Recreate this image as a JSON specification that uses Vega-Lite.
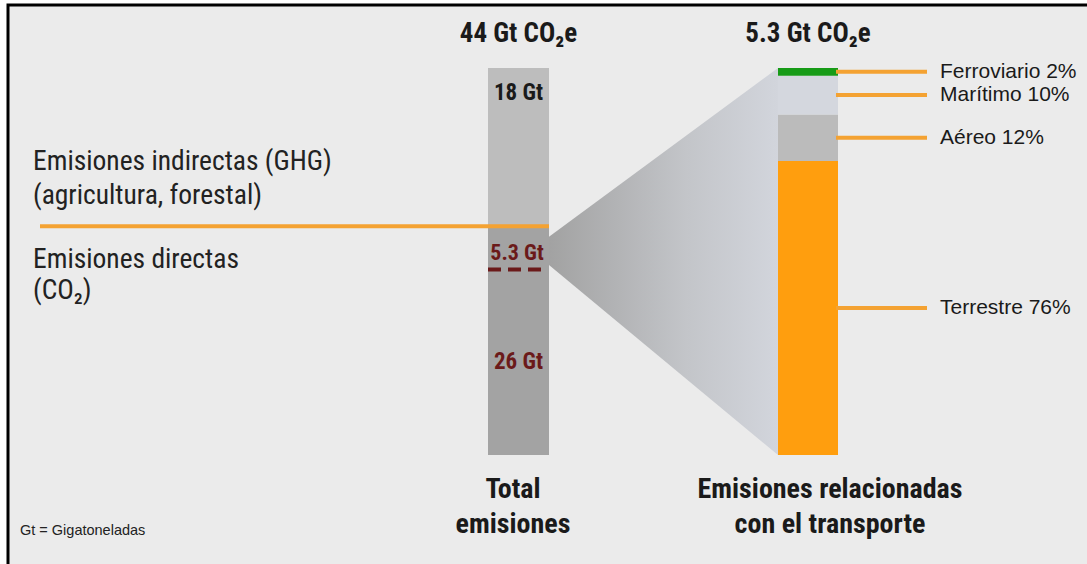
{
  "$schema": "https://vega.github.io/schema/vega-lite/v6.json",
  "width": 1087,
  "height": 564,
  "autosize": {"type": "none"},
  "padding": 0,
  "background": "#ffffff",
  "view": {"stroke": null},
  "datasets": {
    "total": [
      {"segment": "Directas", "gt": 26, "label": "26 Gt"},
      {"segment": "Indirectas", "gt": 18, "label": "18 Gt"}
    ],
    "transport": [
      {"mode": "Terrestre", "pct": 76, "label": "Terrestre 76%"},
      {"mode": "Aéreo", "pct": 12, "label": "Aéreo 12%"},
      {"mode": "Marítimo", "pct": 10, "label": "Marítimo 10%"},
      {"mode": "Ferroviario", "pct": 2, "label": "Ferroviario 2%"}
    ],
    "funnel": [
      {"stage": "Total emisiones", "lo": 21.6, "hi": 24.8},
      {"stage": "Transporte", "lo": 0, "hi": 44}
    ]
  },
  "layer": [
    {
      "layer": [
        {
          "data": {"values": [{}]},
          "mark": {"type": "rect", "fill": "#ebebeb", "stroke": "#000000", "strokeWidth": 3},
          "encoding": {
            "x": {"datum": 8, "type": "quantitative", "scale": {"domain": [0, 1087], "nice": false, "zero": false}, "axis": null},
            "x2": {"datum": 1110},
            "y": {"datum": 51.16, "type": "quantitative", "scale": {"domain": [-12.393, 51.731], "nice": false, "zero": false}, "axis": null},
            "y2": {"datum": -16}
          }
        },
        {
          "data": {"name": "total"},
          "transform": [{"stack": "gt", "groupby": [], "sort": [{"field": "gt", "order": "descending"}], "as": ["g0", "g1"]}],
          "mark": {"type": "rect"},
          "encoding": {
            "x": {"datum": 488, "type": "quantitative"},
            "x2": {"datum": 549},
            "y": {"field": "g1", "type": "quantitative"},
            "y2": {"field": "g0"},
            "color": {"field": "segment", "type": "nominal", "scale": {"domain": ["Directas", "Indirectas"], "range": ["#a3a3a3", "#bdbdbd"]}, "legend": null}
          }
        },
        {
          "data": {"name": "total"},
          "mark": {"type": "text", "font": "Roboto Condensed", "fontWeight": "bold", "fontSize": 23, "color": "#1a1a1a", "baseline": "middle", "align": "center"},
          "encoding": {
            "x": {"datum": 518.5, "type": "quantitative"},
            "y": {"field": "gt", "type": "quantitative", "stack": "zero", "bandPosition": 0.842},
            "detail": {"field": "segment"},
            "order": {"field": "gt", "sort": "descending"},
            "text": {"condition": {"test": "datum.segment === 'Indirectas'", "field": "label", "type": "nominal"}, "value": ""}
          }
        },
        {
          "data": {"name": "total"},
          "mark": {"type": "text", "font": "Roboto Condensed", "fontWeight": "bold", "fontSize": 23, "color": "#6b1a1a", "baseline": "middle", "align": "center"},
          "encoding": {
            "x": {"datum": 518.5, "type": "quantitative"},
            "y": {"field": "gt", "type": "quantitative", "stack": "zero", "bandPosition": 0.407},
            "detail": {"field": "segment"},
            "order": {"field": "gt", "sort": "descending"},
            "text": {"condition": {"test": "datum.segment === 'Directas'", "field": "label", "type": "nominal"}, "value": ""}
          }
        },
        {
          "data": {"values": [{}]},
          "mark": {"type": "rule", "color": "#f4a232", "strokeWidth": 4},
          "encoding": {
            "x": {"datum": 40, "type": "quantitative"},
            "x2": {"datum": 549},
            "y": {"datum": 26, "type": "quantitative"}
          }
        },
        {
          "data": {"values": [{}]},
          "mark": {"type": "rule", "color": "#6b1a1a", "strokeWidth": 4, "strokeDash": [13, 7]},
          "encoding": {
            "x": {"datum": 488, "type": "quantitative"},
            "x2": {"datum": 543},
            "y": {"datum": 21.1, "type": "quantitative"}
          }
        },
        {
          "data": {"values": [{}]},
          "mark": {"type": "text", "font": "Roboto Condensed", "fontWeight": "bold", "fontSize": 22, "color": "#6b1a1a", "baseline": "middle", "align": "center", "text": "5.3 Gt"},
          "encoding": {
            "x": {"datum": 517, "type": "quantitative"},
            "y": {"datum": 22.97, "type": "quantitative"}
          }
        },
        {
          "data": {"values": [{}]},
          "mark": {"type": "text", "font": "Roboto Condensed", "fontWeight": "bold", "fontSize": 27, "color": "#1a1a1a", "baseline": "middle", "align": "center", "text": "44 Gt CO₂e"},
          "encoding": {
            "x": {"datum": 518.5, "type": "quantitative"},
            "y": {"datum": 47.87, "type": "quantitative"}
          }
        },
        {
          "data": {"values": [{}]},
          "mark": {"type": "text", "font": "Roboto Condensed", "fontWeight": "bold", "fontSize": 27, "color": "#1a1a1a", "baseline": "middle", "align": "center", "text": "5.3 Gt CO₂e"},
          "encoding": {
            "x": {"datum": 808, "type": "quantitative"},
            "y": {"datum": 47.87, "type": "quantitative"}
          }
        },
        {
          "data": {"values": [{}]},
          "mark": {"type": "text", "font": "Roboto Condensed", "fontWeight": "bold", "fontSize": 28, "color": "#1a1a1a", "baseline": "alphabetic", "align": "center", "lineHeight": 35, "text": ["Total", "emisiones"]},
          "encoding": {
            "x": {"datum": 513, "type": "quantitative"},
            "y": {"datum": -4.89, "type": "quantitative"}
          }
        },
        {
          "data": {"values": [{}]},
          "mark": {"type": "text", "font": "Roboto Condensed", "fontWeight": "bold", "fontSize": 28, "color": "#1a1a1a", "baseline": "alphabetic", "align": "center", "lineHeight": 35, "text": ["Emisiones relacionadas", "con el transporte"]},
          "encoding": {
            "x": {"datum": 830, "type": "quantitative"},
            "y": {"datum": -4.89, "type": "quantitative"}
          }
        },
        {
          "data": {"values": [{}]},
          "mark": {"type": "text", "font": "Roboto Condensed", "fontSize": 27.5, "color": "#222222", "baseline": "alphabetic", "align": "left", "lineHeight": 34, "text": ["Emisiones indirectas (GHG)", "(agricultura, forestal)"]},
          "encoding": {
            "x": {"datum": 33, "type": "quantitative"},
            "y": {"datum": 32.4, "type": "quantitative"}
          }
        },
        {
          "data": {"values": [{}]},
          "mark": {"type": "text", "font": "Roboto Condensed", "fontSize": 27.5, "color": "#222222", "baseline": "alphabetic", "align": "left", "lineHeight": 31, "text": ["Emisiones directas", "(CO₂)"]},
          "encoding": {
            "x": {"datum": 33, "type": "quantitative"},
            "y": {"datum": 21.26, "type": "quantitative"}
          }
        },
        {
          "data": {"values": [{}]},
          "mark": {"type": "text", "font": "Liberation Sans", "fontSize": 14.5, "color": "#222222", "baseline": "middle", "align": "left", "text": "Gt = Gigatoneladas"},
          "encoding": {
            "x": {"datum": 20, "type": "quantitative"},
            "y": {"datum": -8.64, "type": "quantitative"}
          }
        }
      ]
    },
    {
      "data": {"name": "funnel"},
      "mark": {
        "type": "area",
        "interpolate": "linear",
        "color": {
          "gradient": "linear", "x1": 0, "y1": 0, "x2": 1, "y2": 0,
          "stops": [
            {"offset": 0, "color": "#a2a2a2"},
            {"offset": 0.6, "color": "#c3c5c9"},
            {"offset": 1, "color": "#d2d5dc"}
          ]
        }
      },
      "encoding": {
        "x": {"field": "stage", "type": "ordinal", "scale": {"type": "point", "domain": ["Total emisiones", "Transporte"], "range": [549, 778], "padding": 0}, "axis": null},
        "y": {"field": "hi", "type": "quantitative", "scale": {"domain": [-12.393, 51.731], "nice": false, "zero": false}, "axis": null},
        "y2": {"field": "lo"}
      }
    },
    {
      "layer": [
        {
          "data": {"name": "transport"},
          "transform": [{"stack": "pct", "groupby": [], "sort": [{"field": "pct", "order": "descending"}], "as": ["p0", "p1"]}],
          "mark": {"type": "rect"},
          "encoding": {
            "x": {"datum": 778, "type": "quantitative", "scale": {"domain": [0, 1087], "nice": false, "zero": false}, "axis": null},
            "x2": {"datum": 838},
            "y": {"field": "p1", "type": "quantitative", "scale": {"domain": [-28.166, 117.571], "nice": false, "zero": false}, "axis": null},
            "y2": {"field": "p0"},
            "color": {"field": "mode", "type": "nominal", "scale": {"domain": ["Terrestre", "Aéreo", "Marítimo", "Ferroviario"], "range": ["#ff9e0e", "#bbbbbb", "#d4d7de", "#179b17"]}, "legend": null}
          }
        },
        {
          "data": {"name": "transport"},
          "mark": {"type": "rule", "color": "#f4a232", "strokeWidth": 4},
          "encoding": {
            "x": {"datum": 836, "type": "quantitative"},
            "x2": {"datum": 927},
            "y": {"field": "pct", "type": "quantitative", "stack": "zero", "bandPosition": 0.5},
            "detail": {"field": "mode"},
            "order": {"field": "pct", "sort": "descending"}
          }
        },
        {
          "data": {"name": "transport"},
          "mark": {"type": "text", "font": "Liberation Sans", "fontSize": 21, "color": "#1a1a1a", "baseline": "middle", "align": "left"},
          "encoding": {
            "x": {"datum": 940, "type": "quantitative"},
            "y": {"field": "pct", "type": "quantitative", "stack": "zero", "bandPosition": 0.5},
            "detail": {"field": "mode"},
            "order": {"field": "pct", "sort": "descending"},
            "text": {"field": "label", "type": "nominal"}
          }
        }
      ]
    }
  ],
  "resolve": {"scale": {"x": "independent", "y": "independent", "color": "independent"}}
}
